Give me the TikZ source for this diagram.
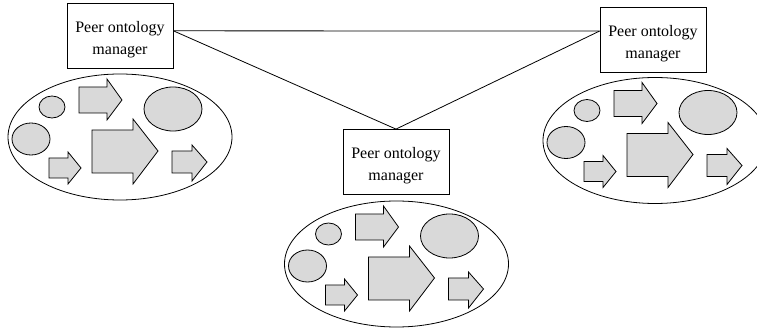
\documentclass[tikz,border=0pt]{standalone}
\usepackage{fontspec}
\setmainfont{Liberation Serif}
\begin{document}
\begin{tikzpicture}[x=0.75pt,y=-0.75pt,line width=0.6pt,
  pom/.style={draw,align=center,minimum width=79.5pt,minimum height=48.75pt,
    font=\fontsize{12}{16.5}\selectfont},
  blob/.style={draw,fill=gray!30}]
\useasboundingbox (0,0) rectangle (757,331);
\clip (0,0) rectangle (757,331);

\node[pom] (lpom) at (120,35.5) {\rule{0pt}{14pt}Peer ontology\\manager};
\node[pom] (rpom) at (653,39.5) {\rule{0pt}{14pt}Peer ontology\\manager};
\node[pom] (cpom) at (396,162) {\rule{0pt}{14pt}Peer ontology\\manager};

\draw (lpom.5) -- (rpom.171);
\draw (lpom.5) -- (cpom.north);
\draw (rpom.171) -- (cpom.north);

% one cluster of ontologies per peer
\foreach \cx/\cy in {120/137, 396.5/264, 655/140.5}{
\begin{scope}[shift={(\cx,\cy)}]
	\draw (0,0) ellipse [x radius=112, y radius=63];
	\draw[blob] (-68,-30) ellipse [x radius=13, y radius=11];
	\draw[blob] (-89,2) ellipse [x radius=19, y radius=16];
	\draw[blob] (53,-28) ellipse [x radius=29, y radius=22];
	\draw[blob] (-41,-50) -- (-13,-50) -- (-13,-58) -- (2,-37) -- (-13,-17) -- (-13,-24) -- (-41,-24) -- cycle;
	\draw[blob] (-28,-7) -- (13,-7) -- (13,-18) -- (38,14) -- (13,47) -- (13,36) -- (-28,36) -- cycle;
	\draw[blob] (-71,21) -- (-52,21) -- (-52,15) -- (-39,31) -- (-52,47) -- (-52,41) -- (-71,41) -- cycle;
	\draw[blob] (52,14) -- (72,14) -- (72,8) -- (87,25) -- (72,44) -- (72,36) -- (52,36) -- cycle;
\end{scope}}
\end{tikzpicture}
\end{document}
